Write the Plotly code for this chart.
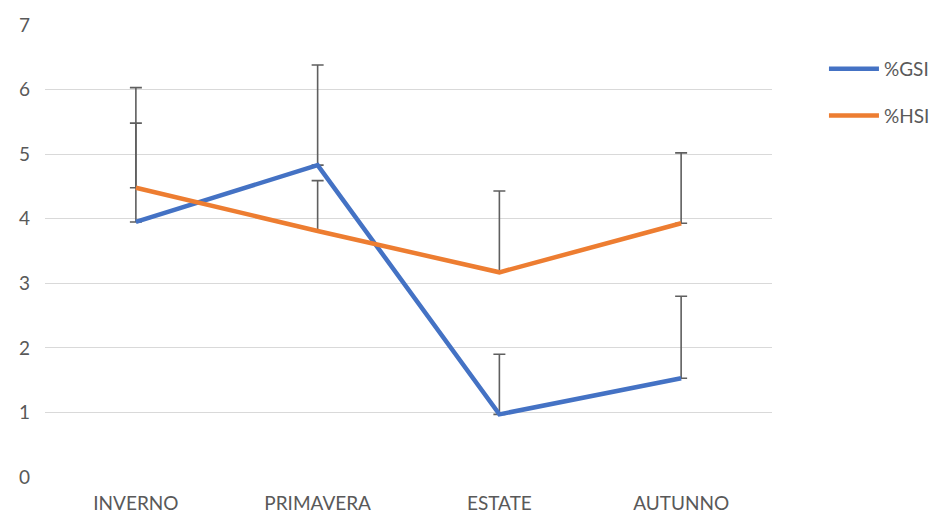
import plotly.graph_objects as go

seasons = ["INVERNO", "PRIMAVERA", "ESTATE", "AUTUNNO"]

gsi = [3.95, 4.83, 0.97, 1.53]
gsi_err = [1.53, 1.55, 0.93, 1.27]

hsi = [4.48, 3.81, 3.17, 3.93]
hsi_err = [1.55, 0.78, 1.26, 1.09]

err_color = "#5f5f5f"
font = "Lato, 'Open Sans', sans-serif"

fig = go.Figure()

fig.add_trace(go.Scatter(
    x=seasons, y=gsi, name="%GSI", mode="lines",
    line=dict(color="#4472C4", width=4.5),
    error_y=dict(type="data", array=gsi_err, symmetric=False,
                 arrayminus=[0] * len(gsi), color=err_color,
                 thickness=1.6, width=6),
    legendgroup="gsi",
))
fig.add_trace(go.Scatter(
    x=seasons, y=hsi, name="%HSI", mode="lines",
    line=dict(color="#ED7D31", width=4.5),
    error_y=dict(type="data", array=hsi_err, symmetric=False,
                 arrayminus=[0] * len(hsi), color=err_color,
                 thickness=1.6, width=6),
    legendgroup="hsi",
))

# the page body adds an 8px offset, margins are reduced to make up for it
fig.update_layout(
    width=938, height=515,
    margin=dict(l=37, r=173, t=17, b=46),
    plot_bgcolor="white", paper_bgcolor="white",
    font=dict(family=font, size=19, color="#595959"),
    xaxis=dict(range=[-0.5, 3.5], showgrid=False, showline=False,
               ticks="", ticklabelstandoff=13, automargin=False,
               tickfont=dict(size=19, color="#595959")),
    yaxis=dict(range=[0, 7], dtick=1, showgrid=True, gridcolor="#d9d9d9",
               gridwidth=1.3, zeroline=False, showline=False, ticks="",
               ticklabelstandoff=14, automargin=False,
               tickfont=dict(size=19, color="#595959")),
    legend=dict(x=1.07, y=0.945, xanchor="left", yanchor="top",
                traceorder="grouped", tracegroupgap=19, itemwidth=50,
                font=dict(size=19, color="#595959"),
                bgcolor="rgba(0,0,0,0)"),
)

fig.write_html("out.html")
